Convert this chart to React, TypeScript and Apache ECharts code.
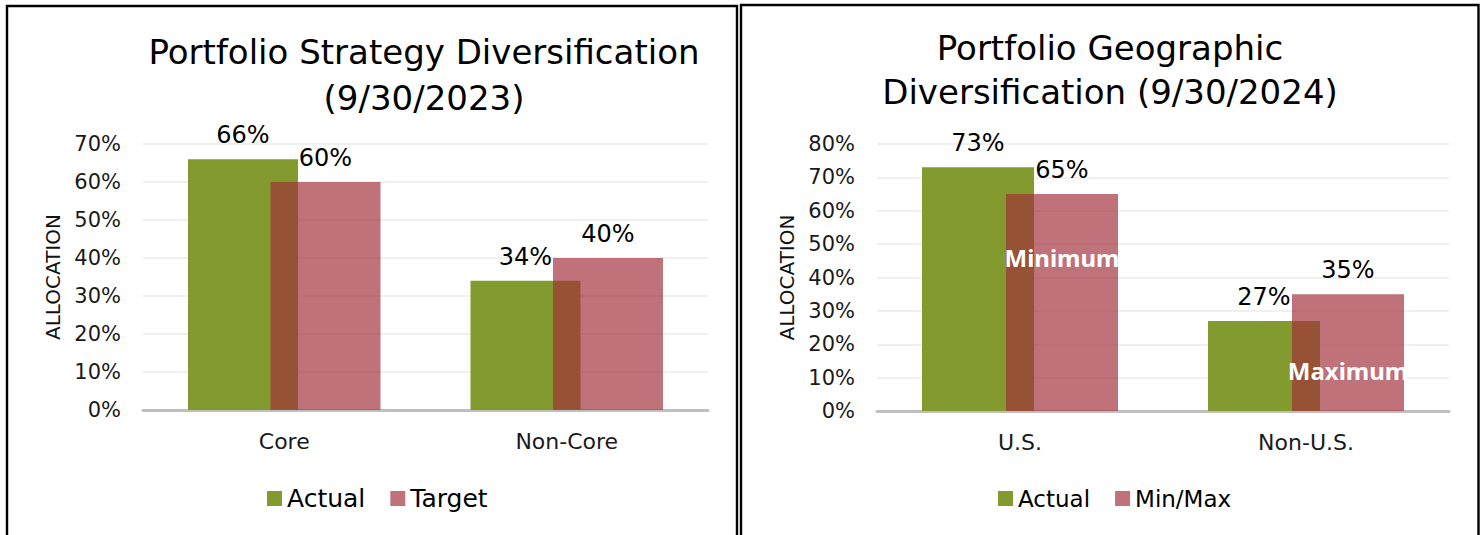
import React, { useEffect, useRef } from "react";
import * as echarts from "echarts";

const leftTitle = "Portfolio Strategy Diversification\n(9/30/2023)";
const rightTitle = "Portfolio Geographic\nDiversification (9/30/2024)";
const leftCategories = ["Core", "Non-Core"];
const leftActual = [66, 34];
const leftTarget = [60, 40];
const rightCategories = ["U.S.", "Non-U.S."];
const rightActual = [73, 27];
const rightMinMax = [65, 35];
const rangeNoteNames = ["Minimum", "Maximum"];
const rangeNoteLevels = [46, 12];
const leftAxisMax = 70;
const rightAxisMax = 80;
const tickStep = 10;
const yAxisName = "ALLOCATION";

const FONT = "DejaVu Sans";
const GREEN = "#839A2F";
const PINK = "rgba(161,45,56,0.67)";

export default function App() {
  const ref = useRef<HTMLDivElement>(null);
  useEffect(() => {
    if (!ref.current) return;
    const chart = echarts.init(ref.current, null, { renderer: "svg" });

    const yAxisBase = (gridIndex: number, max: number) => ({
      type: "value",
      gridIndex,
      min: 0,
      max,
      interval: tickStep,
      name: yAxisName,
      nameLocation: "middle",
      nameGap: 80,
      nameRotate: 90,
      nameTextStyle: { fontFamily: FONT, fontSize: 20, color: "#111" },
      axisLine: { show: false },
      axisTick: { show: false },
      axisLabel: {
        formatter: "{value}%",
        fontFamily: FONT,
        fontSize: 21,
        color: "#1a1a1a",
        margin: 22,
      },
      splitLine: { lineStyle: { color: "#ebebeb", width: 1.5 } },
    });

    const xAxisBase = (gridIndex: number, data: string[]) => ({
      type: "category",
      gridIndex,
      data,
      axisLine: { lineStyle: { color: "#bfbfbf", width: 3 } },
      axisTick: { show: false },
      axisLabel: {
        fontFamily: FONT,
        fontSize: 22,
        color: "#1a1a1a",
        margin: 20,
      },
    });

    const barLabel = {
      show: true,
      position: "top",
      distance: 12,
      formatter: "{c}%",
      fontFamily: FONT,
      fontSize: 24,
      color: "#000",
    };

    chart.setOption({
      animation: false,
      backgroundColor: "#ffffff",
      grid: [
        { left: 143, top: 144, width: 565, height: 266 },
        { left: 877, top: 144, width: 572, height: 267 },
      ],
      xAxis: [xAxisBase(0, leftCategories), xAxisBase(1, rightCategories)],
      yAxis: [yAxisBase(0, leftAxisMax), yAxisBase(1, rightAxisMax)],
      legend: [
        {
          data: ["Actual", "Target"],
          left: 267,
          top: 486,
          padding: 0,
          icon: "rect",
          itemWidth: 15,
          itemHeight: 15,
          itemGap: 25,
          textStyle: { fontFamily: FONT, fontSize: 25, color: "#000" },
        },
        {
          data: ["Actual", "Min/Max"],
          left: 998,
          top: 487,
          padding: 0,
          icon: "rect",
          itemWidth: 15,
          itemHeight: 15,
          itemGap: 25,
          textStyle: { fontFamily: FONT, fontSize: 23, color: "#000" },
        },
      ],
      series: [
        {
          name: "Actual",
          type: "bar",
          xAxisIndex: 0,
          yAxisIndex: 0,
          data: leftActual,
          barWidth: 110,
          barGap: "-25%",
          itemStyle: { color: GREEN },
          label: barLabel,
        },
        {
          name: "Target",
          type: "bar",
          xAxisIndex: 0,
          yAxisIndex: 0,
          data: leftTarget,
          barWidth: 110,
          barGap: "-25%",
          itemStyle: { color: PINK },
          label: barLabel,
        },
        {
          name: "Actual",
          type: "bar",
          xAxisIndex: 1,
          yAxisIndex: 1,
          data: rightActual,
          barWidth: 112,
          barGap: "-25%",
          itemStyle: { color: GREEN },
          label: barLabel,
        },
        {
          name: "Min/Max",
          type: "bar",
          xAxisIndex: 1,
          yAxisIndex: 1,
          data: rightMinMax,
          barWidth: 112,
          barGap: "-25%",
          itemStyle: { color: PINK },
          label: barLabel,
          markPoint: {
            symbol: "rect",
            symbolSize: 1,
            itemStyle: { color: "rgba(0,0,0,0)" },
            label: {
              show: true,
              position: "inside",
              formatter: "{b}",
              fontFamily: "Noto Sans",
              fontWeight: "bold",
              fontSize: 24,
              color: "#ffffff",
            },
            data: rangeNoteNames.map((n, i) => ({
              name: n,
              coord: [rightCategories[i], rangeNoteLevels[i]],
            })),
          },
        },
      ],
      graphic: [
        {
          type: "rect",
          shape: { x: 7, y: 6, width: 730, height: 600 },
          style: { fill: "none", stroke: "#000", lineWidth: 2.4 },
          silent: true,
        },
        {
          type: "rect",
          shape: { x: 741, y: 5, width: 737.5, height: 600 },
          style: { fill: "none", stroke: "#000", lineWidth: 2.4 },
          silent: true,
        },
        {
          type: "text",
          x: 424,
          y: 29,
          style: {
            text: leftTitle,
            align: "center",
            verticalAlign: "top",
            fontFamily: FONT,
            fontSize: 34,
            lineHeight: 46,
            fill: "#000",
          },
        },
        {
          type: "text",
          x: 1110,
          y: 26,
          style: {
            text: rightTitle,
            align: "center",
            verticalAlign: "top",
            fontFamily: FONT,
            fontSize: 34,
            lineHeight: 44,
            fill: "#000",
          },
        },
      ],
    });

    return () => chart.dispose();
  }, []);

  return (
    <div
      ref={ref}
      style={{ position: "absolute", left: 0, top: 0, width: 1484, height: 535 }}
    />
  );
}
